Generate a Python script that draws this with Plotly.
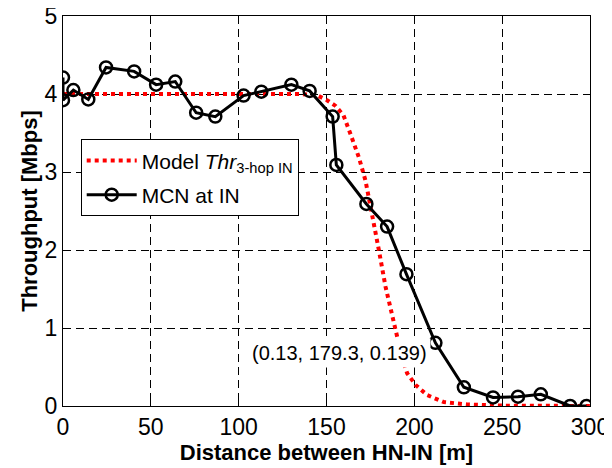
import plotly.graph_objects as go

# Measured MCN throughput at IN
mcn_dist = [0, 0, 5.9, 14.4, 24.5, 40.5, 53, 63.9, 75.8, 86.7, 102.8, 112.9, 130, 140.4,
            153.5, 155.6, 172.7, 184.5, 195.5, 212, 228.2, 244.8, 259, 272, 288.7, 298]
mcn_thr = [4.21, 3.92, 4.05, 3.93, 4.34, 4.29, 4.12, 4.16, 3.76, 3.71, 3.98, 4.03, 4.12, 4.04,
           3.71, 3.09, 2.59, 2.30, 1.69, 0.81, 0.24, 0.11, 0.12, 0.15, 0.0, 0.0]

# Model curve
model_dist = [0, 50, 100, 135, 145, 150.3, 155, 159.6, 163.6, 168.4, 172.2, 176, 179.8,
              183.6, 187.4, 190.2, 193, 195.9, 200.7, 207.3, 216.8, 230, 250, 300]
model_thr = [4.0, 4.0, 4.0, 4.0, 3.98, 3.92, 3.85, 3.73, 3.49, 3.19, 2.89, 2.47, 2.0,
             1.53, 1.14, 0.88, 0.62, 0.42, 0.27, 0.14, 0.05, 0.02, 0.005, 0.0]

x_ticks = [0, 50, 100, 150, 200, 250, 300]
y_ticks = [0, 1, 2, 3, 4, 5]
annot_text = "(0.13, 179.3, 0.139)"
annot_pos = (157.4, 0.68)

FONT = "Liberation Sans, Arial, sans-serif"

fig = go.Figure()
fig.add_trace(go.Scatter(
    x=model_dist, y=model_thr, mode="lines",
    name="Model <i>Thr</i><sub>3-hop IN</sub>",
    line=dict(color="#ff0000", width=4, dash="dot"),
    legendgroup="a",
))
fig.add_trace(go.Scatter(
    x=mcn_dist, y=mcn_thr, mode="lines+markers",
    name="MCN at IN",
    line=dict(color="black", width=3),
    marker=dict(symbol="circle-open", size=12, color="black", line=dict(width=2.5, color="black")),
    legendgroup="b",
))

fig.add_annotation(
    x=annot_pos[0], y=annot_pos[1], text=annot_text, showarrow=False,
    font=dict(family=FONT, size=20, color="black"),
    bgcolor="white", borderpad=3,
)

axis_common = dict(
    showline=True, linecolor="black", linewidth=1, mirror="ticks",
    ticks="inside", ticklen=5, tickcolor="black",
    showgrid=True, gridcolor="black", gridwidth=1, griddash="8px,5px",
    zeroline=False, automargin=False, ticklabeloverflow="allow",
    tickfont=dict(family=FONT, size=23, color="black"),
)

fig.update_xaxes(
    range=[0, 300], tickvals=x_ticks, ticktext=[str(v) for v in x_ticks],
    title=dict(text="<b>Distance between HN-IN [m]</b>", font=dict(family=FONT, size=22, color="black"), standoff=3),
    **axis_common,
)
fig.update_yaxes(
    range=[0, 5], tickvals=y_ticks, ticktext=[str(v) for v in y_ticks],
    title=dict(text="<b>Throughput [Mbps]</b>", font=dict(family=FONT, size=22, color="black"), standoff=0),
    **axis_common,
)

fig.update_layout(
    width=604, height=460,
    margin=dict(l=55, r=22, t=8, b=62),
    paper_bgcolor="white", plot_bgcolor="white",
    showlegend=True,
    legend=dict(
        x=0.0336, y=0.684, xanchor="left", yanchor="top",
        bgcolor="white", bordercolor="black", borderwidth=1,
        font=dict(family=FONT, size=21, color="black"),
        itemwidth=50, tracegroupgap=4, traceorder="grouped",
    ),
)

fig.write_html("out.html")
